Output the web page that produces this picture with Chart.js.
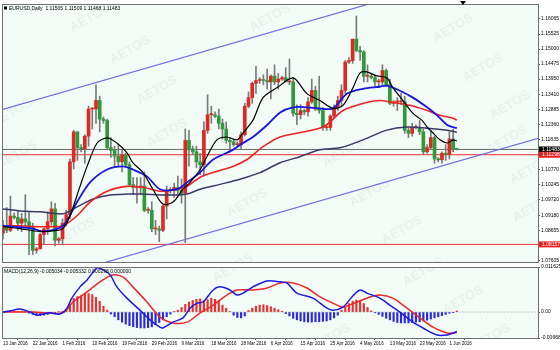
<!DOCTYPE html>
<html><head><meta charset="utf-8">
<script src="https://cdn.jsdelivr.net/npm/chart.js@4"></script>
<style>
html,body{margin:0;padding:0;background:#fff;width:560px;height:350px;overflow:hidden}
canvas{position:absolute;left:0}
#c1{top:0}
#c2{top:263px}
</style></head><body>
<canvas id="c1" width="560" height="266"></canvas>
<canvas id="c2" width="560" height="87"></canvas>
<script>
// ---------------- DATA ----------------
const DATE_LABELS = ['13 Jan 2016','22 Jan 2016','1 Feb 2016','10 Feb 2016','19 Feb 2016','29 Feb 2016','9 Mar 2016','18 Mar 2016','28 Mar 2016','6 Apr 2016','15 Apr 2016','25 Apr 2016','4 May 2016','13 May 2016','23 May 2016','1 Jun 2016'];
const DATE_LABEL_STEP = 8;
const PRICE_TICKS = [1.16065,1.15525,1.15000,1.14475,1.13950,1.13410,1.12885,1.12360,1.11835,1.10770,1.10245,1.09720,1.09180,1.08655,1.08130,1.07605];
const MACD_TICKS = [0.011625, 0, -0.006687];
const LEVELS = [1.11483, 1.11298, 1.08157];

const OPEN = [1.0855,1.0875,1.0865,1.0915,1.0910,1.0890,1.0905,1.0895,1.0875,1.0795,1.0800,1.0850,1.0870,1.0895,1.0940,1.0830,1.0835,1.0890,1.0920,1.1105,1.1210,1.1155,1.1150,1.1195,1.1290,1.1290,1.1320,1.1255,1.1250,1.1155,1.1145,1.1125,1.1105,1.1130,1.1095,1.1025,1.1015,1.1015,1.1020,1.0935,1.0935,1.0870,1.0870,1.0865,1.0950,1.1005,1.1005,1.1015,1.1005,1.0995,1.1180,1.1150,1.1140,1.1105,1.1095,1.1215,1.1270,1.1270,1.1265,1.1240,1.1220,1.1180,1.1175,1.1165,1.1165,1.1200,1.1300,1.1330,1.1380,1.1390,1.1392,1.1390,1.1385,1.1405,1.1385,1.1395,1.1400,1.1385,1.1385,1.1275,1.1270,1.1285,1.1280,1.1315,1.1355,1.1290,1.1285,1.1225,1.1225,1.1265,1.1295,1.1320,1.1355,1.1455,1.1460,1.1535,1.1495,1.1490,1.1405,1.1405,1.1400,1.1385,1.1385,1.1425,1.1375,1.1310,1.1315,1.1315,1.1315,1.1215,1.1205,1.1225,1.1225,1.1210,1.1140,1.1155,1.1190,1.1115,1.1112,1.1135,1.1130,1.1185,1.11505];
const HIGH = [1.0900,1.0945,1.0985,1.0925,1.0935,1.0925,1.0990,1.0930,1.0890,1.0805,1.0855,1.0875,1.0930,1.0965,1.0960,1.0840,1.0905,1.0935,1.1115,1.1215,1.1210,1.1165,1.1200,1.1300,1.1295,1.1375,1.1335,1.1262,1.1255,1.1190,1.1160,1.1165,1.1145,1.1135,1.1105,1.1050,1.1050,1.1050,1.1070,1.0945,1.0965,1.0900,1.0880,1.0955,1.1020,1.1015,1.1030,1.1055,1.1045,1.1220,1.1215,1.1160,1.1160,1.1135,1.1245,1.1340,1.1300,1.1280,1.1290,1.1255,1.1245,1.1190,1.1185,1.1175,1.1210,1.1310,1.1350,1.1385,1.1440,1.1400,1.1410,1.1430,1.1410,1.1445,1.1415,1.1405,1.1435,1.1465,1.1400,1.1305,1.1305,1.1290,1.1330,1.1395,1.1370,1.1405,1.1295,1.1230,1.1270,1.1305,1.1335,1.1375,1.1460,1.1470,1.1535,1.1616,1.1510,1.1495,1.1445,1.1412,1.1410,1.1395,1.1445,1.1430,1.1395,1.1320,1.1330,1.1345,1.1335,1.1225,1.1240,1.1235,1.1250,1.1220,1.1165,1.1215,1.1195,1.1120,1.1140,1.1165,1.1210,1.1220,1.11509];
const LOW = [1.0835,1.0857,1.0860,1.0905,1.0865,1.0860,1.0880,1.0780,1.0780,1.0785,1.0800,1.0815,1.0850,1.0885,1.0810,1.0820,1.0815,1.0880,1.0905,1.1080,1.1110,1.1140,1.1100,1.1160,1.1220,1.1240,1.1210,1.1240,1.1150,1.1120,1.1090,1.1090,1.1070,1.1085,1.1020,1.0990,1.0960,1.0990,1.0930,1.0925,1.0860,1.0850,1.0825,1.0860,1.0905,1.0995,1.0980,1.0990,1.0960,1.0822,1.1090,1.1130,1.1085,1.1060,1.1055,1.1205,1.1240,1.1260,1.1220,1.1185,1.1170,1.1145,1.1160,1.1160,1.1150,1.1195,1.1295,1.1310,1.1345,1.1380,1.1375,1.1360,1.1325,1.1375,1.1360,1.1390,1.1385,1.1375,1.1265,1.1235,1.1255,1.1270,1.1265,1.1310,1.1285,1.1275,1.1215,1.1215,1.1215,1.1260,1.1285,1.1300,1.1345,1.1450,1.1450,1.1490,1.1460,1.1385,1.1385,1.1395,1.1370,1.1365,1.1375,1.1370,1.1305,1.1300,1.1285,1.1305,1.1205,1.1190,1.1195,1.1220,1.1200,1.1130,1.1135,1.1150,1.1100,1.1105,1.1100,1.1110,1.1115,1.1140,1.11468];
const CLOSE = [1.0875,1.0865,1.0915,1.0910,1.0890,1.0905,1.0895,1.0875,1.0795,1.0800,1.0850,1.0870,1.0895,1.0940,1.0830,1.0835,1.0890,1.0920,1.1105,1.1210,1.1155,1.1150,1.1195,1.1290,1.1290,1.1320,1.1255,1.1250,1.1155,1.1145,1.1125,1.1105,1.1130,1.1095,1.1025,1.1015,1.1015,1.1020,1.0935,1.0935,1.0870,1.0870,1.0865,1.0950,1.1005,1.1005,1.1015,1.1005,1.0995,1.1180,1.1150,1.1140,1.1105,1.1095,1.1215,1.1270,1.1270,1.1265,1.1240,1.1220,1.1180,1.1175,1.1165,1.1165,1.1200,1.1300,1.1330,1.1380,1.1390,1.1392,1.1390,1.1385,1.1405,1.1385,1.1395,1.1400,1.1385,1.1385,1.1275,1.1270,1.1285,1.1280,1.1315,1.1355,1.1290,1.1285,1.1225,1.1225,1.1265,1.1295,1.1320,1.1355,1.1455,1.1460,1.1535,1.1495,1.1490,1.1405,1.1405,1.1400,1.1385,1.1385,1.1425,1.1375,1.1310,1.1315,1.1315,1.1315,1.1215,1.1205,1.1225,1.1225,1.1210,1.1140,1.1155,1.1190,1.1115,1.1112,1.1135,1.1130,1.1185,1.1150,1.11483];

// moving averages: [bar index, price]
const MA_BLACK = [[0,1.0878],[4.6,1.0871],[9.9,1.0861],[14,1.0864],[16.1,1.0871],[18,1.0916],[20.7,1.1019],[22.6,1.1089],[25.3,1.1171],[28,1.1189],[30.6,1.1171],[33.3,1.1137],[34.9,1.1102],[37.6,1.1068],[40.3,1.1009],[43,1.0957],[45.7,1.0964],[48.4,1.1009],[50.3,1.1033],[53,1.1078],[54.8,1.1123],[57.5,1.1182],[60.2,1.1192],[62.9,1.1182],[64.5,1.1206],[67.2,1.1251],[69.9,1.1330],[73.7,1.1365],[78,1.1399],[81.7,1.1344],[85.2,1.1320],[88.7,1.1292],[91.4,1.1303],[94.1,1.1365],[96,1.1417],[97.8,1.1420],[100.5,1.1406],[103.2,1.1399],[104.8,1.1365],[107.5,1.1320],[110.2,1.1275],[112.6,1.1251],[114,1.1227],[115.6,1.1206],[117.5,1.1182],[119.4,1.1171],[121,1.1182],[122,1.1178]];
const MA_BLUE = [[0,1.0881],[8.1,1.0871],[10.8,1.0861],[16.1,1.0881],[19.9,1.0964],[23.4,1.1033],[28,1.1078],[32.3,1.1089],[34.9,1.1078],[38.7,1.1054],[42.2,1.1009],[46.8,1.1009],[49.5,1.1033],[53,1.1068],[56.5,1.1113],[61.8,1.1147],[64.5,1.1171],[67.2,1.1192],[71,1.1234],[74.5,1.1278],[78,1.1296],[81.7,1.1296],[85.2,1.1292],[88.7,1.1292],[92.5,1.1344],[96.8,1.1361],[101.3,1.1368],[103.2,1.1372],[106.7,1.1354],[110.2,1.1330],[114,1.1296],[116.7,1.1268],[119.4,1.1234],[122,1.1223]];
const MA_RED = [[0,1.0881],[4.6,1.0881],[8.1,1.0878],[12.6,1.0878],[16.1,1.0881],[19.9,1.0916],[23.4,1.0964],[28,1.1002],[33.3,1.1019],[37.6,1.1016],[42.2,1.1002],[46.8,1.1009],[49.5,1.1019],[53,1.1051],[56.5,1.1068],[61.8,1.1089],[65.6,1.1113],[69.9,1.1158],[74.5,1.1192],[86,1.1227],[91.4,1.1285],[96.8,1.1310],[101.3,1.1320],[104.8,1.1313],[109.4,1.1303],[114,1.1285],[117.5,1.1268],[121,1.1258],[122,1.1251]];
const MA_NAVY = [[0,1.0940],[4.6,1.0933],[9.9,1.0930],[16.1,1.0923],[19.9,1.0947],[24.2,1.0975],[28.8,1.0989],[33.3,1.0992],[37.6,1.0992],[42.2,1.0989],[46.8,1.0989],[49.5,1.0992],[53,1.1009],[58.3,1.1026],[63.7,1.1044],[69.1,1.1067],[74.5,1.1102],[79.8,1.1123],[85.2,1.1147],[90.6,1.1154],[96.8,1.1182],[103.2,1.1216],[108.6,1.1227],[114,1.1223],[119.4,1.1216],[122,1.1209]];
// channel lines: [bar index, price]
const CHANNEL_UPPER = [[-1,1.1285],[145,1.1833]];
const CHANNEL_LOWER = [[-1,1.0646],[145,1.1192]];

// MACD(12,26,9)
const MACD_LINE = [[0,0.0000],[1.9,0.0003],[4.6,0.0008],[7.3,0.0000],[9.1,-0.0008],[10.8,-0.0005],[12.6,-0.0002],[15.3,-0.0005],[17.2,0.0010],[18.5,0.0036],[20.7,0.0065],[22.6,0.0083],[24.2,0.0103],[25.3,0.0114],[26.9,0.0109],[28.8,0.0096],[30.6,0.0065],[33.3,0.0036],[36.8,0.0005],[39.5,-0.0020],[42.2,-0.0039],[43,-0.0041],[45.7,-0.0026],[48.4,-0.0015],[50.3,0.0010],[52.2,0.0023],[53.8,0.0026],[56.5,0.0057],[58.3,0.0065],[61,0.0057],[62.9,0.0044],[64.5,0.0049],[67.2,0.0065],[71,0.0080],[74.5,0.0078],[76.3,0.0075],[79,0.0049],[83.3,0.0036],[87.1,0.0010],[88.7,0.0005],[91.4,0.0013],[93.8,0.0039],[96,0.0057],[97.8,0.0049],[101.3,0.0036],[104,0.0018],[106.7,0.0000],[110.2,-0.0026],[112.9,-0.0041],[116.7,-0.0059],[119.4,-0.0059],[121,-0.0054],[122,-0.0050]];
const MACD_SIGNAL = [[0,0.0000],[8.1,0.0000],[16.1,-0.0002],[18.8,0.0026],[22.6,0.0052],[26.1,0.0078],[29.6,0.0096],[32.3,0.0090],[34.9,0.0065],[38.7,0.0026],[42.2,-0.0013],[45.7,-0.0028],[49.5,-0.0026],[53,-0.0002],[56.5,0.0018],[60.2,0.0044],[62.9,0.0057],[67.2,0.0057],[71,0.0062],[74.5,0.0075],[78,0.0075],[81.7,0.0062],[85.2,0.0039],[89.8,0.0018],[91.4,0.0013],[95.2,0.0026],[98.7,0.0039],[101.3,0.0044],[104.8,0.0036],[108.6,0.0010],[112.1,-0.0015],[115.6,-0.0039],[119.4,-0.0054],[122,-0.0053]];
const MACD_HIST = [0.0002,0.0003,0.0004,0.0003,0.0002,0.0002,0.0001,-0.0003,-0.0006,-0.0008,-0.0009,-0.0008,-0.0006,-0.0004,-0.0002,0.0001,0.0002,0.0005,0.0020,0.0035,0.0040,0.0042,0.0046,0.0048,0.0045,0.0038,0.0028,0.0015,0.0005,-0.0005,-0.0012,-0.0020,-0.0026,-0.0031,-0.0035,-0.0038,-0.0040,-0.0041,-0.0041,-0.0040,-0.0038,-0.0033,-0.0027,-0.0020,-0.0012,-0.0005,0.0001,0.0005,0.0012,0.0020,0.0026,0.0030,0.0033,0.0034,0.0030,0.0032,0.0036,0.0033,0.0028,0.0018,0.0010,0.0001,-0.0008,-0.0014,-0.0015,-0.0010,0.0004,0.0010,0.0015,0.0018,0.0019,0.0017,0.0014,0.0010,0.0006,0.0002,-0.0004,-0.0010,-0.0016,-0.0020,-0.0023,-0.0025,-0.0026,-0.0026,-0.0025,-0.0025,-0.0024,-0.0023,-0.0020,-0.0015,-0.0008,0.0005,0.0014,0.0022,0.0028,0.0031,0.0030,0.0022,0.0012,0.0003,-0.0002,-0.0006,-0.0011,-0.0016,-0.0020,-0.0024,-0.0027,-0.0028,-0.0028,-0.0028,-0.0027,-0.0026,-0.0025,-0.0023,-0.0021,-0.0018,-0.0015,-0.0012,-0.0009,-0.0006,-0.0003,-0.0001,0.0003];

const HEADER_MAIN = 'EURUSD,Daily  1.11505 1.11509 1.11468 1.11483';
const HEADER_MACD = 'MACD(12,26,9) -0.005034 -0.005332 0.000298 0.000000';
const WATERMARK = 'AETOS';

// ---------------- STYLE / LAYOUT ----------------
const XMIN = -0.27, XMAX = 143.82;
const YMIN = 1.0754, YMAX = 1.1658;
const BG = '#f3fbf7';
const BULL = '#dc2a22', BEAR = '#2e9a3a';
const FONT = '"Liberation Sans", Arial, sans-serif';
const WM_POS = [[90,18],[130,50],[157,90],[12,113],[270,18],[453,28],[483,68],[510,105],[17,155],[167,133],[230,153],[75,232],[247,203],[343,153],[370,193],[402,230],[507,140],[530,170],[533,208],[103,282],[233,268],[423,272],[463,300],[330,338],[490,338]];

const pts = a => a.map(([x,y]) => ({x, y}));
const idx = OPEN.map((_, i) => i);

const panelPlugin = {
  id: 'panel',
  beforeDatasetsDraw(chart, args, o) {
    const {ctx, chartArea: a} = chart;
    ctx.save();
    ctx.fillStyle = BG;
    ctx.fillRect(a.left, a.top, a.right - a.left, a.bottom - a.top);
    ctx.beginPath(); ctx.rect(a.left, a.top, a.right - a.left, a.bottom - a.top); ctx.clip();
    ctx.font = 'bold 13px ' + FONT;
    ctx.fillStyle = 'rgba(0,0,0,0.045)';
    ctx.textAlign = 'center'; ctx.textBaseline = 'middle';
    for (const [wx, wy] of WM_POS) {
      ctx.save(); ctx.translate(wx, wy - o.offsetY); ctx.rotate(-Math.PI / 6);
      ctx.fillText(WATERMARK, 0, 0); ctx.restore();
    }
    ctx.restore();
  },
  afterDraw(chart, args, o) {
    const {ctx, chartArea: a} = chart;
    ctx.save();
    ctx.strokeStyle = '#707070'; ctx.lineWidth = 1;
    ctx.strokeRect(a.left + 0.5, a.top + 0.5, a.right - a.left, a.bottom - a.top);
    ctx.fillStyle = '#000';
    ctx.font = '5px ' + FONT; ctx.textBaseline = 'middle'; ctx.textAlign = 'left';
    if (o.header) {
      if (o.icon) { ctx.fillRect(a.left + 2, a.top + 2.5, 3, 3); }
      ctx.fillText(o.header, a.left + o.headerX, a.top + 4.5);
    }
    if (o.boxes) {
      const ys = chart.scales.y;
      for (const b of o.boxes) {
        const y = ys.getPixelForValue(b.v);
        ctx.fillStyle = b.bg;
        ctx.fillRect(a.right + 1, y - 3, 560 - a.right - 1, 6);
        ctx.fillStyle = '#fff';
        ctx.fillText(b.v.toFixed(5), a.right + 4, y);
      }
    }
    if (o.shiftMark) {
      ctx.fillStyle = '#000';
      ctx.beginPath(); ctx.moveTo(460, 1); ctx.lineTo(466, 1); ctx.lineTo(463, 5); ctx.closePath(); ctx.fill();
    }
    ctx.restore();
  }
};

const lineDs = (data, color, w, extra) => Object.assign({type: 'line', data: pts(data), borderColor: color, borderWidth: w, pointRadius: 0, tension: 0.3, fill: false}, extra || {});
const levelDs = (v, color) => ({type: 'line', data: [{x: XMIN - 2, y: v}, {x: XMAX + 2, y: v}], borderColor: color, borderWidth: 1, pointRadius: 0, fill: false});

new Chart(document.getElementById('c1'), {
  data: {
    datasets: [
      lineDs(MA_BLACK, '#000000', 1.2),
      lineDs(MA_BLUE, '#1616e0', 1.8),
      lineDs(MA_RED, '#ee2222', 1.6),
      lineDs(MA_NAVY, '#3a3a68', 1.5),
      {type: 'bar', data: idx.map(i => ({x: i, y: [OPEN[i], CLOSE[i]]})), backgroundColor: idx.map(i => CLOSE[i] >= OPEN[i] ? BULL : BEAR), barThickness: 3, grouped: false, minBarLength: 1},
      {type: 'bar', data: idx.map(i => ({x: i, y: [LOW[i], HIGH[i]]})), backgroundColor: '#7a7a7a', barThickness: 1, grouped: false},
      lineDs(CHANNEL_UPPER, '#6f6fe6', 1.2, {tension: 0}),
      lineDs(CHANNEL_LOWER, '#6f6fe6', 1.2, {tension: 0}),
      levelDs(LEVELS[0], '#6a6a6a'),
      levelDs(LEVELS[1], '#e83030'),
      levelDs(LEVELS[2], '#e83030')
    ]
  },
  options: {
    responsive: false, animation: false, events: [],
    layout: {padding: {left: 2, top: 2, right: 0, bottom: 1}},
    plugins: {legend: {display: false}, tooltip: {enabled: false},
      panel: {offsetY: 0, header: HEADER_MAIN, headerX: 7, icon: true, shiftMark: true,
        boxes: [{v: LEVELS[0], bg: '#000'}, {v: LEVELS[1], bg: '#e82020'}, {v: LEVELS[2], bg: '#e82020'}]}},
    scales: {
      x: {type: 'linear', min: XMIN, max: XMAX, offset: false, display: false},
      y: {position: 'right', min: YMIN, max: YMAX,
        afterFit: s => { s.width = 22; },
        afterBuildTicks: s => { s.ticks = PRICE_TICKS.map(v => ({value: v})); },
        ticks: {autoSkip: false, padding: 1, color: '#000', font: {size: 5, family: FONT}, callback: v => v.toFixed(5)},
        grid: {drawOnChartArea: false, tickLength: 2, color: '#555'},
        border: {color: '#555'}}
    }
  },
  plugins: [panelPlugin]
});

new Chart(document.getElementById('c2'), {
  data: {
    datasets: [
      lineDs(MACD_LINE, '#1a1ae6', 1.5),
      lineDs(MACD_SIGNAL, '#ee2626', 1.5),
      {type: 'bar', data: idx.map(i => ({x: i, y: MACD_HIST[i]})), backgroundColor: idx.map(i => MACD_HIST[i] >= 0 ? '#e83030' : '#2a2ae0'), barThickness: 1.5, grouped: false},
      {type: 'line', data: [{x: XMIN - 2, y: 0}, {x: XMAX + 2, y: 0}], borderColor: '#9a9a9a', borderWidth: 1, borderDash: [1, 2], pointRadius: 0}
    ]
  },
  options: {
    responsive: false, animation: false, events: [],
    layout: {padding: {left: 2, top: 4, right: 0, bottom: 0}},
    plugins: {legend: {display: false}, tooltip: {enabled: false},
      panel: {offsetY: 263, header: HEADER_MACD, headerX: 2}},
    scales: {
      x: {type: 'linear', min: XMIN, max: XMAX, offset: false,
        afterFit: s => { s.height = 12; },
        afterBuildTicks: s => { s.ticks = DATE_LABELS.map((_, k) => ({value: k * DATE_LABEL_STEP})); },
        ticks: {autoSkip: false, maxRotation: 0, align: 'start', padding: 1, color: '#000', font: {size: 4.5, family: FONT}, callback: (v, k) => DATE_LABELS[k]},
        grid: {drawOnChartArea: false, tickLength: 2, color: '#555'}, border: {color: '#555'}},
      y: {position: 'right', min: MACD_TICKS[2], max: MACD_TICKS[0],
        afterFit: s => { s.width = 22; },
        afterBuildTicks: s => { s.ticks = MACD_TICKS.map(v => ({value: v})); },
        ticks: {autoSkip: false, padding: 1, color: '#000', font: {size: 5, family: FONT}, callback: v => v === 0 ? '0.00' : v.toFixed(6)},
        grid: {drawOnChartArea: false, tickLength: 2, color: '#555'}, border: {color: '#555'}}
    }
  },
  plugins: [panelPlugin]
});
</script>
</body></html>
